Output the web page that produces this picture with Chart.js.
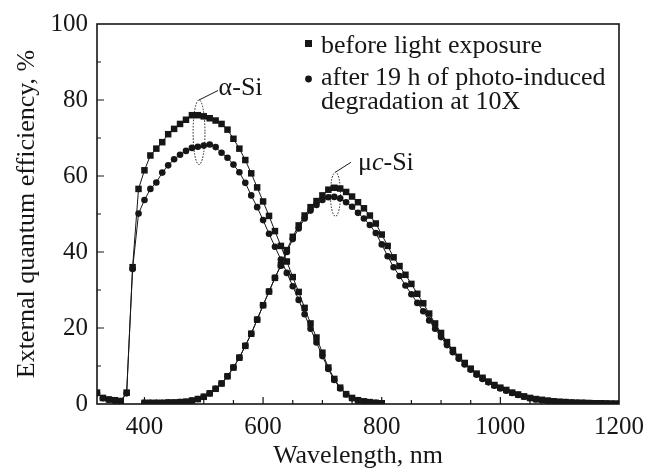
<!DOCTYPE html>
<html>
<head>
<meta charset="utf-8">
<script src="https://cdn.jsdelivr.net/npm/chart.js@4.4.0/dist/chart.umd.min.js"></script>
<style>
  html, body { margin: 0; background: #fff; }
</style>
</head>
<body>
<canvas id="eqe" width="659" height="472"></canvas>
<script>
// a-Si cell, wavelength grid (nm)
const aSiWl = [320, 330, 340, 350, 360, 370, 380, 390, 400, 410, 420, 430, 440, 450, 460, 470, 480, 490,
  500, 510, 520, 530, 540, 550, 560, 570, 580, 590, 600, 610, 620, 630, 640, 650, 660, 670, 680, 690,
  700, 710, 720, 730, 740, 750, 760, 770, 780, 790, 800];
const aSiBefore = [3.0, 1.6, 1.2, 1.0, 0.8, 3.0, 36.0, 56.6, 61.5, 65.4, 67.2, 68.9, 71.0, 72.4, 73.7, 74.8, 76.0, 76.0,
  75.7, 75.2, 74.6, 73.7, 72.2, 69.8, 67.2, 64.2, 60.7, 57.0, 53.3, 49.5, 45.5, 41.6, 37.5, 33.4, 29.5, 25.3, 21.2, 17.5,
  13.5, 9.6, 6.6, 4.3, 2.6, 1.6, 1.0, 0.7, 0.5, 0.3, 0.2];
const aSiAfter = [2.8, 1.5, 1.1, 0.9, 0.7, 2.8, 35.5, 50.1, 53.7, 56.6, 58.3, 60.9, 62.8, 64.4, 65.6, 66.6, 67.4, 67.7,
  68.0, 68.3, 67.6, 66.1, 64.8, 63.0, 61.0, 58.2, 54.9, 51.8, 48.4, 44.8, 41.4, 38.0, 34.5, 31.0, 27.4, 23.6, 19.8, 16.2,
  12.6, 9.2, 6.3, 4.1, 2.5, 1.5, 0.9, 0.6, 0.4, 0.3, 0.2];

// uc-Si cell
const ucSiWl = [400, 410, 420, 430, 440, 450, 460, 470, 480, 490, 500, 510, 520, 530, 540, 550, 560, 570, 580, 590,
  600, 610, 620, 630, 640, 650, 660, 670, 680, 690, 700, 710, 720, 730, 740, 750, 760, 770, 780, 790,
  800, 810, 820, 830, 840, 850, 860, 870, 880, 890, 900, 910, 920, 930, 940, 950, 960, 970, 980, 990,
  1000, 1010, 1020, 1030, 1040, 1050, 1060, 1070, 1080, 1090, 1100, 1110, 1120, 1130, 1140, 1150, 1160, 1170, 1180, 1190, 1200];
const ucSiBefore = [0.3, 0.3, 0.3, 0.3, 0.4, 0.4, 0.5, 0.6, 0.9, 1.3, 1.9, 2.8, 4.0, 5.4, 7.3, 9.6, 12.2, 15.3, 18.5, 22.2,
  26.0, 29.6, 33.2, 36.6, 40.5, 44.0, 47.0, 49.6, 51.8, 53.4, 54.9, 56.4, 56.9, 56.7, 55.8, 54.6, 53.1, 51.5, 49.6, 47.5,
  44.6, 41.6, 38.6, 36.3, 34.0, 31.6, 29.0, 26.5, 23.8, 21.2, 18.7, 16.3, 14.2, 12.4, 10.8, 9.3, 8.0, 6.9, 5.9, 5.0,
  4.3, 3.7, 3.0, 2.5, 2.0, 1.6, 1.3, 1.1, 0.9, 0.7, 0.6, 0.5, 0.4, 0.35, 0.3, 0.25, 0.2, 0.2, 0.15, 0.1, 0.1];
const ucSiAfter = [0.3, 0.3, 0.3, 0.3, 0.4, 0.4, 0.5, 0.6, 0.9, 1.3, 1.9, 2.8, 4.0, 5.4, 7.3, 9.6, 12.2, 15.3, 18.5, 22.2,
  26.0, 29.6, 33.2, 36.4, 40.0, 43.4, 46.2, 48.8, 50.9, 52.4, 53.7, 54.4, 54.5, 54.1, 53.1, 51.9, 50.3, 48.8, 47.1, 45.0,
  42.0, 38.9, 36.0, 33.7, 31.2, 28.9, 26.6, 24.4, 22.0, 19.8, 17.6, 15.5, 13.6, 11.9, 10.4, 9.0, 7.7, 6.6, 5.7, 4.8,
  4.1, 3.5, 2.9, 2.4, 1.9, 1.5, 1.2, 1.0, 0.8, 0.7, 0.5, 0.5, 0.4, 0.3, 0.3, 0.25, 0.2, 0.2, 0.15, 0.1, 0.1];

const xTicks = [400, 600, 800, 1000, 1200];
const yTicks = [0, 20, 40, 60, 80, 100];
const legendLabels = ['before light exposure', 'after 19 h of photo-induced', 'degradation at 10X'];

const ink = '#161616';
const serif = '"Liberation Serif", "Times New Roman", serif';

const toPoints = (xs, ys) => xs.map((x, i) => ({ x: x, y: ys[i] }));

const series = (xs, ys, style, r) => ({
  data: toPoints(xs, ys),
  borderColor: ink,
  borderWidth: 1,
  pointStyle: style,
  pointRadius: r,
  pointBackgroundColor: ink,
  pointBorderWidth: 0,
  tension: 0,
});

// frame, inside ticks, legend and the dotted markers for each cell
const decorations = {
  id: 'decorations',
  afterDraw(chart) {
    const { ctx, chartArea: a, scales: { x, y } } = chart;
    ctx.save();
    ctx.strokeStyle = ink;
    ctx.fillStyle = ink;
    ctx.lineWidth = 1.6;
    ctx.strokeRect(a.left, a.top, a.right - a.left, a.bottom - a.top);

    ctx.lineWidth = 1.2;
    ctx.beginPath();
    for (let v = 350; v < 1200; v += 50) {
      const px = x.getPixelForValue(v);
      const len = v % 200 === 0 ? 7 : 4;
      ctx.moveTo(px, a.bottom);
      ctx.lineTo(px, a.bottom - len);
    }
    for (let v = 10; v < 100; v += 10) {
      const py = y.getPixelForValue(v);
      const len = v % 20 === 0 ? 7 : 4;
      ctx.moveTo(a.left, py);
      ctx.lineTo(a.left + len, py);
    }
    ctx.stroke();

    // legend
    ctx.font = '26px ' + serif;
    ctx.textBaseline = 'alphabetic';
    ctx.fillRect(305, 40, 7, 7);
    ctx.beginPath();
    ctx.arc(308.5, 79, 3.4, 0, Math.PI * 2);
    ctx.fill();
    ctx.fillText(legendLabels[0], 321, 53);
    ctx.fillText(legendLabels[1], 321, 85);
    ctx.fillText(legendLabels[2], 321, 109);

    // dotted ellipses and leaders
    const rings = [
      { cx: 492, cy: 71.5, rx: 10, ry: 8.5, lx: 524, ly: 82.5 },
      { cx: 722, cy: 55.2, rx: 8.5, ry: 5.8, lx: 748, ly: 63.6 },
    ];
    ctx.lineWidth = 1;
    rings.forEach(r => {
      const cx = x.getPixelForValue(r.cx);
      const cy = y.getPixelForValue(r.cy);
      const rx = x.getPixelForValue(r.cx + r.rx) - cx;
      const ry = cy - y.getPixelForValue(r.cy + r.ry);
      ctx.setLineDash([1.5, 1.5]);
      ctx.beginPath();
      ctx.ellipse(cx, cy, rx, ry, 0, 0, Math.PI * 2);
      ctx.stroke();
      ctx.setLineDash([]);
      ctx.beginPath();
      ctx.moveTo(cx, cy - ry);
      ctx.lineTo(x.getPixelForValue(r.lx), y.getPixelForValue(r.ly));
      ctx.stroke();
    });

    ctx.font = '26px ' + serif;
    ctx.fillText('\u03b1-Si', x.getPixelForValue(525), y.getPixelForValue(81.3));
    let tx = x.getPixelForValue(760);
    const ty = y.getPixelForValue(61.5);
    ctx.fillText('\u03bc', tx, ty);
    tx += ctx.measureText('\u03bc').width;
    ctx.font = 'italic 26px ' + serif;
    ctx.fillText('c', tx, ty);
    tx += ctx.measureText('c').width;
    ctx.font = '26px ' + serif;
    ctx.fillText('-Si', tx, ty);
    ctx.restore();
  }
};

new Chart(document.getElementById('eqe'), {
  type: 'line',
  data: {
    datasets: [
      series(aSiWl, aSiBefore, 'rect', 4.6),
      series(aSiWl, aSiAfter, 'circle', 3.3),
      series(ucSiWl, ucSiBefore, 'rect', 4.6),
      series(ucSiWl, ucSiAfter, 'circle', 3.3),
    ],
  },
  options: {
    responsive: false,
    animation: false,
    layout: {
      padding: { left: 0, right: 40, top: 20, bottom: 0 },
    },
    scales: {
      x: {
        type: 'linear',
        min: 320,
        max: 1200,
        afterBuildTicks: (s) => { s.ticks = xTicks.map(v => ({ value: v })); },
        afterFit: (s) => { s.height = 68; },
        grid: { display: false, drawTicks: false },
        border: { display: false },
        ticks: {
          color: ink,
          padding: 8,
          maxRotation: 0,
          callback: (v) => String(v),
          font: { family: serif, size: 25 },
        },
        title: {
          display: true,
          text: 'Wavelength, nm',
          color: ink,
          padding: { top: 0, bottom: 0 },
          font: { family: serif, size: 26 },
        },
      },
      y: {
        min: 0,
        max: 100,
        afterBuildTicks: (s) => { s.ticks = yTicks.map(v => ({ value: v })); },
        afterFit: (s) => { s.width = 97; },
        grid: { display: false, drawTicks: false },
        border: { display: false },
        ticks: {
          color: ink,
          padding: 9,
          callback: (v) => String(v),
          font: { family: serif, size: 25 },
        },
        title: {
          display: true,
          text: 'External quantum efficiency, %',
          color: ink,
          padding: { top: 12, bottom: 0 },
          font: { family: serif, size: 26 },
        },
      },
    },
    plugins: {
      legend: { display: false },
      tooltip: { enabled: false },
    },
  },
  plugins: [decorations],
});
</script>
</body>
</html>
